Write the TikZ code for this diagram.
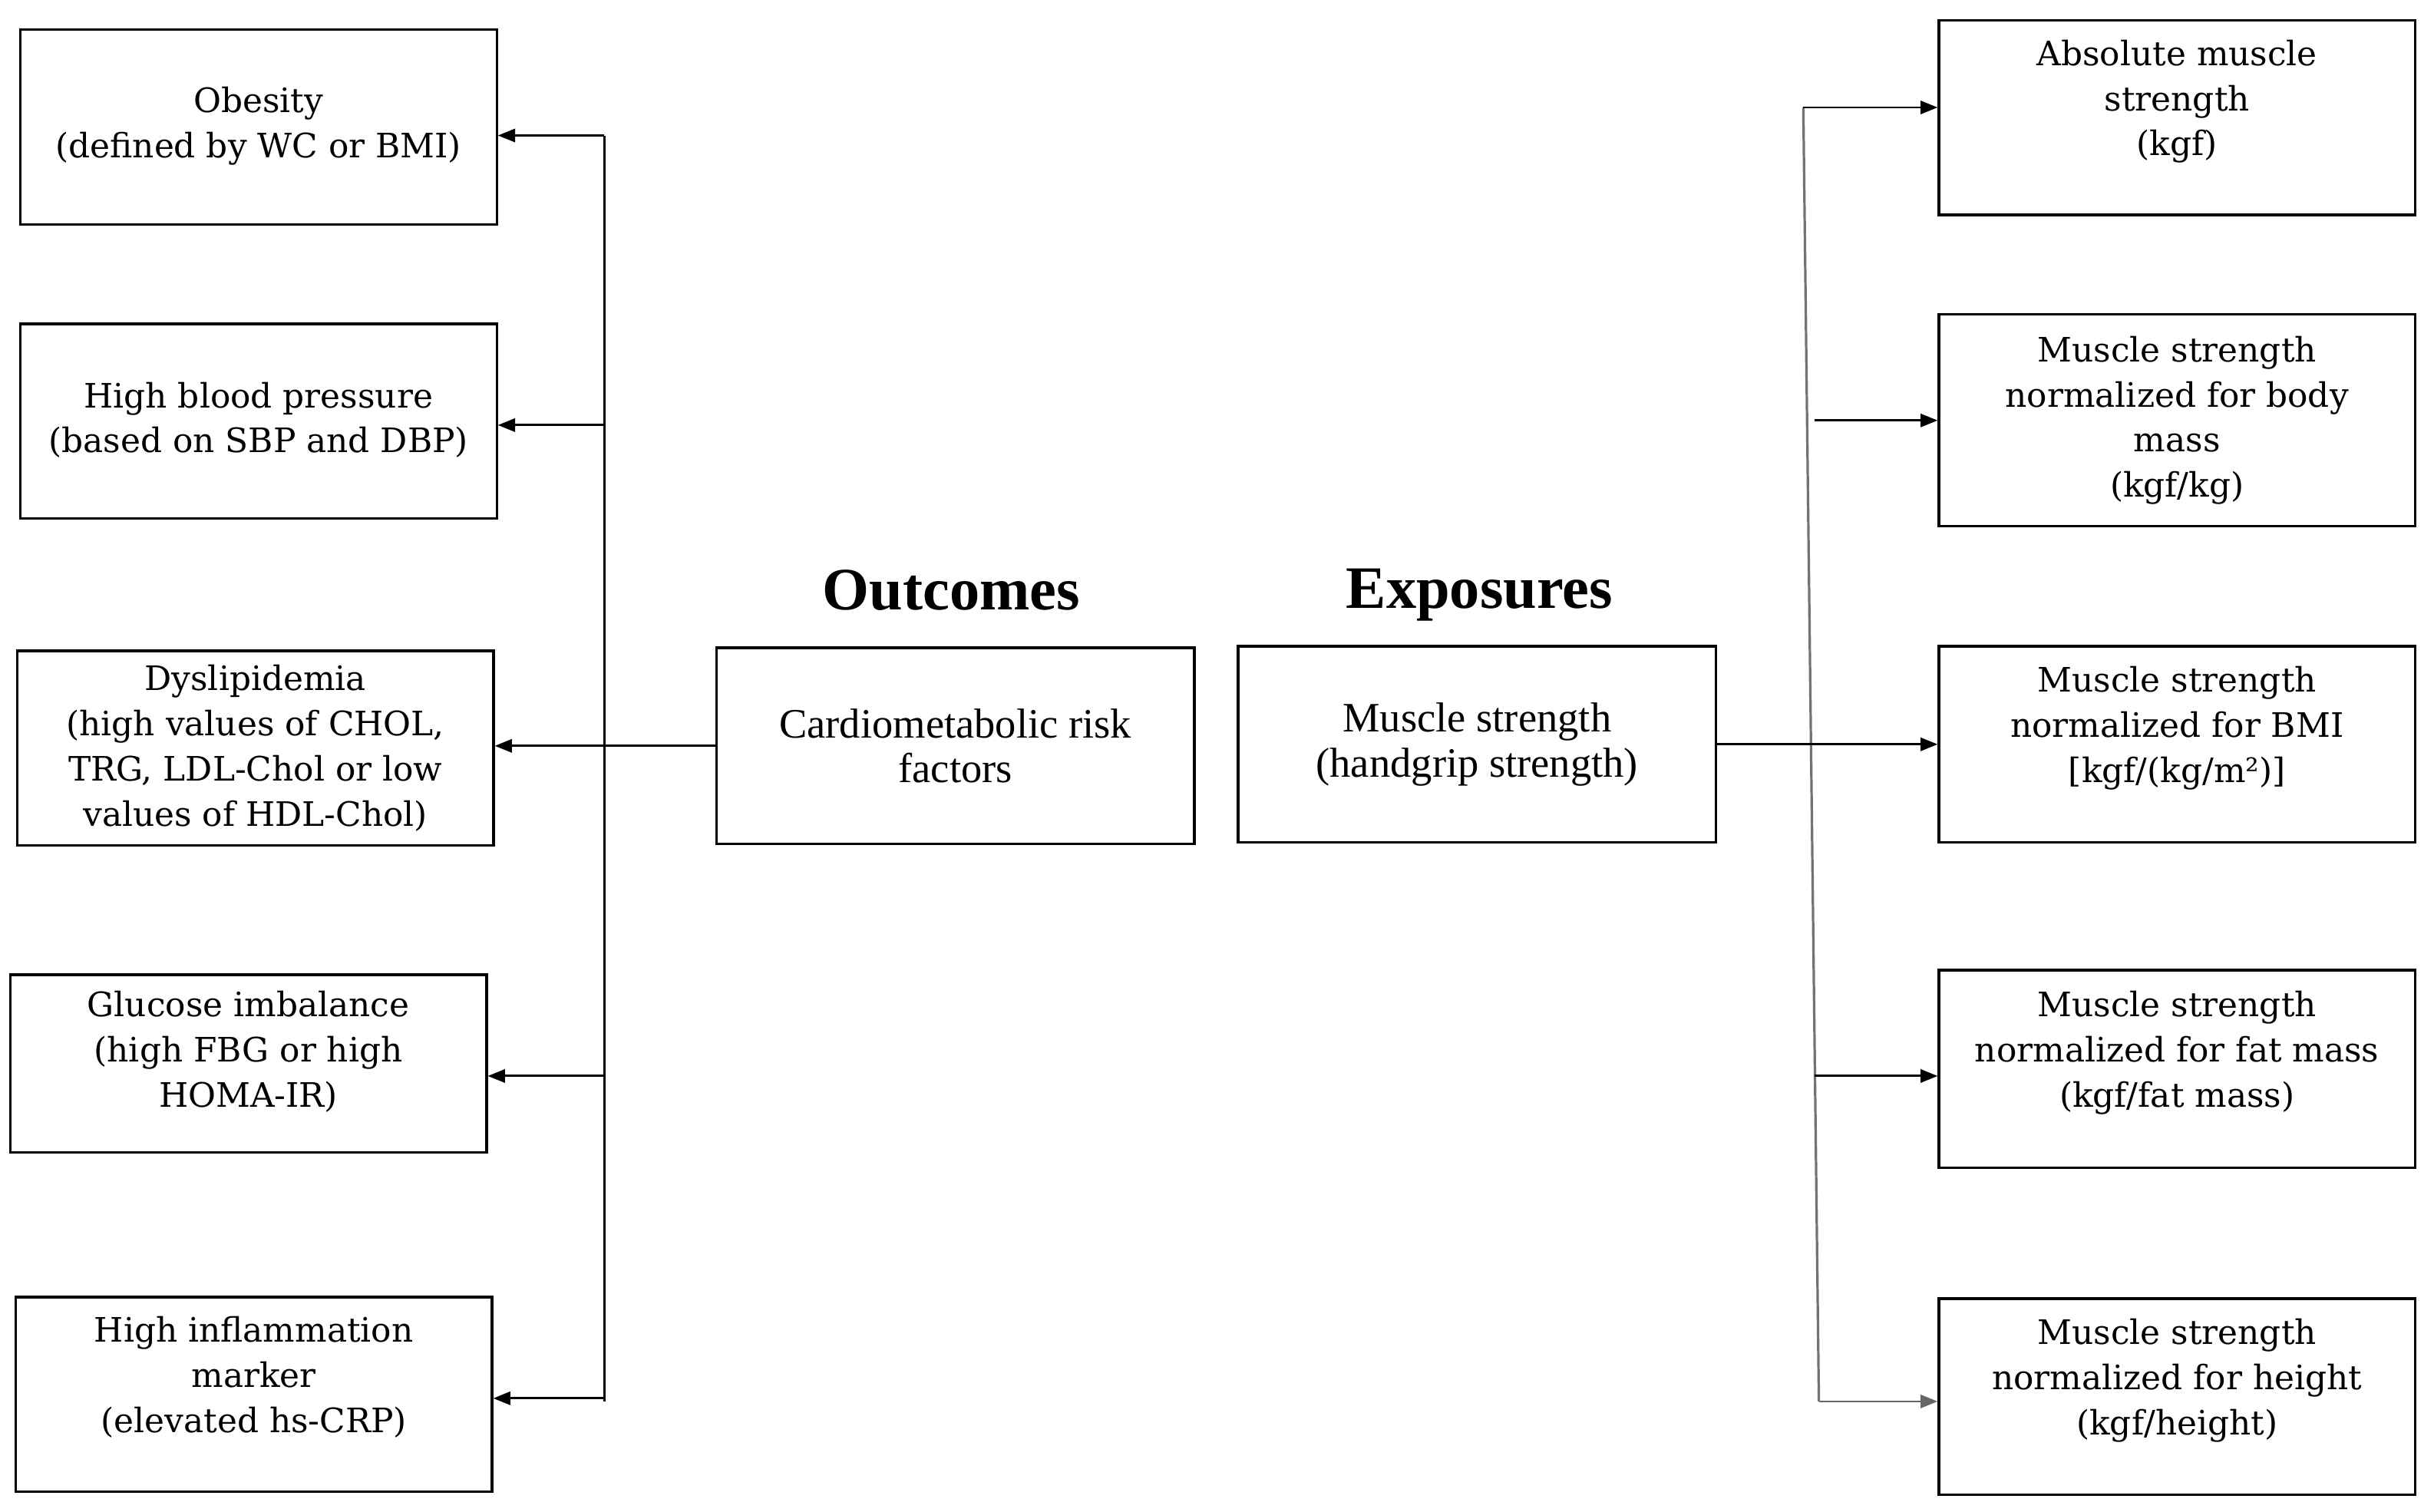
\documentclass[tikz,border=0pt]{standalone}
\usepackage{fontspec}
\setmainfont{DejaVu Serif}
\newfontfamily\palfont{Liberation Serif}
\usetikzlibrary{arrows.meta}
\begin{document}
\begin{tikzpicture}[x=0.02cm, y=-0.02cm,
    box/.style={draw, line width=0.9pt, minimum width=6.12cm, align=center, inner sep=0pt, font=\fontsize{12.3}{16.5}\selectfont},
    midbox/.style={box, font=\palfont\fontsize{15.3}{16.5}\selectfont},
    title/.style={font=\palfont\bfseries\fontsize{22}{24}\selectfont},
    arr/.style={-{Triangle[length=0.22cm, width=0.17cm]}, line width=0.8pt}]
        \useasboundingbox (0,0) rectangle (1563,971);

        % Outcomes (left)
        \node[box, minimum height=2.5cm] (obes) at (166,81.5) {\\[-8pt]Obesity\\(defined by WC or BMI)};
        \node[box, minimum height=2.5cm] (bp) at (166,270.5) {\\[-8pt]High blood pressure\\(based on SBP and DBP)};
        \node[box, minimum height=2.5cm] (dysl) at (164,480.5) {Dyslipidemia\\(high values of CHOL,\\TRG, LDL-Chol or low\\values of HDL-Chol)};
        \node[box, minimum height=2.28cm] (gluc) at (159.5,683) {Glucose imbalance\\(high FBG or high\\HOMA-IR)\\[-6pt]};
        \node[box, minimum height=2.5cm] (infl) at (163,895.5) {High inflammation\\marker\\(elevated hs-CRP)\\[-2pt]};

        % Riquadri centrali
        \node[title] (outt) at (611,379) {Outcomes};
        \node[title] (expt) at (950,382) {Exposures};
        \node[midbox, minimum width=6.14cm, minimum height=2.52cm] (outc) at (613.5,479) {Cardiometabolic risk\\factors};
        \node[midbox, minimum width=6.14cm, minimum height=2.52cm] (musc) at (948.5,478) {Muscle strength\\(handgrip strength)};

        % Exposures (right)
        \node[box, minimum height=2.5cm] (abs) at (1398,75.5) {Absolute muscle\\strength\\(kgf)\\[-2pt]};
        \node[box, minimum height=2.72cm] (body) at (1398,270) {Muscle strength\\normalized for body\\mass\\(kgf/kg)};
        \node[box, minimum height=2.52cm] (bmi) at (1398,478) {Muscle strength\\normalized for BMI\\{[}kgf/(kg/m²){]}\\[-2pt]};
        \node[box, minimum height=2.54cm] (fat) at (1398,686.5) {Muscle strength\\normalized for fat mass\\(kgf/fat mass)\\[-2pt]};
        \node[box, minimum height=2.52cm] (hgt) at (1398,897) {Muscle strength\\normalized for height\\(kgf/height)\\[-2pt]};

        % Linea verticale sinistra
        \coordinate (ltop) at (388,87);
        \coordinate (lbp) at (388,273);
        \coordinate (lgl) at (388,691);
        \coordinate (lbot) at (388,898);
        \draw[line width=0.8pt] (ltop) -- ([yshift=-0.04cm]lbot);
        \draw[arr] (ltop) -- (ltop -| obes.east);
        \draw[arr] (lbp) -- (lbp -| bp.east);
        \draw[arr] (outc.west) -- (outc.west -| dysl.east);
        \draw[arr] (lgl) -- (lgl -| gluc.east);
        \draw[arr] (lbot) -- (lbot -| infl.east);

        % Linea verticale destra
        \coordinate (rtop) at (1158,69);
        \coordinate (rbm) at (1165,270);
        \coordinate (rfm) at (1165,691);
        \coordinate (rbot) at (1168,900);
        \draw[line width=0.9pt, black!55] (rtop) -- (rbot);
        \draw[arr] (rtop) -- (rtop -| abs.west);
        \draw[arr] (rbm) -- (rbm -| body.west);
        \draw[arr] (musc.east) -- (bmi.west);
        \draw[arr] (rfm) -- (rfm -| fat.west);
        \draw[arr, black!60] (rbot) -- (rbot -| hgt.west);

    \end{tikzpicture}
\end{document}
